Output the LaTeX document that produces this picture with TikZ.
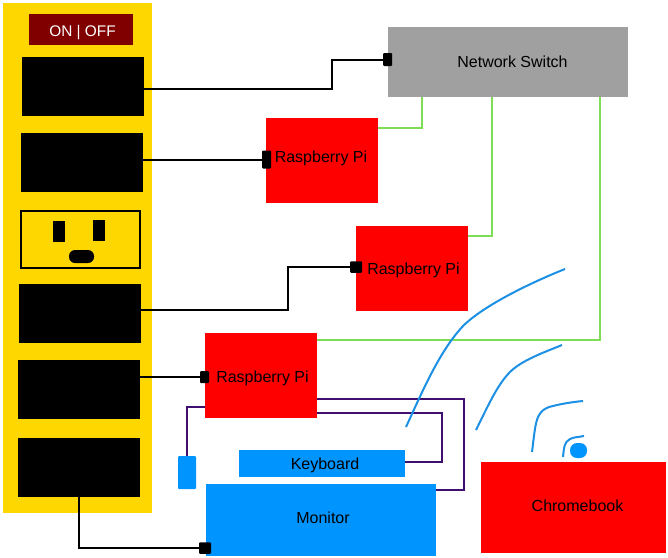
\documentclass[tikz,border=0pt]{standalone}
\usepackage{fontspec}
\setmainfont{Liberation Sans}
\usepackage{tikz}
\usetikzlibrary{calc}

\definecolor{stripyellow}{HTML}{FFD700}
\definecolor{switchdark}{HTML}{800000}
\definecolor{pired}{HTML}{FF0000}
\definecolor{gearblue}{HTML}{0094FF}
\definecolor{waveblue}{HTML}{1C90E4}
\definecolor{switchgrey}{HTML}{A0A0A0}
\definecolor{lanGreen}{HTML}{7FDD55}
\definecolor{usbpurple}{HTML}{3F0F6F}

% moves a label inside its box: right, up
\newcommand{\nudge}[3]{\hspace*{#1}\raisebox{#2}{#3}}

\tikzset{
	box/.style n args={3}{inner sep=0pt, outer sep=0pt, fill=#3,
		minimum width=#1pt, minimum height=#2pt,
		text height=11.5pt, text depth=0pt,
		font=\fontsize{16}{18}\selectfont},
	outlet/.style={box={122}{59}{black}},
	pibox/.style={box={112}{85}{pired}},
	plug/.style n args={2}{box={#1}{#2}{black}, rounded corners=1pt},
	wire/.style={draw=black, line width=2pt},
	lan/.style={draw=lanGreen, line width=2.8pt},
	usb/.style={draw=usbpurple, line width=2.2pt},
	wave/.style={draw=waveblue, line width=2pt},
}

\begin{document}
\begin{tikzpicture}[x=1pt,y=-1pt]

	\useasboundingbox (0,0) rectangle (668,557);

	% power strip
	\node[box={149}{510}{stripyellow}] (strip) at (77.5,258) {};
	\node[box={104}{31}{switchdark}, text=white,
		font=\fontsize{15.4}{18}\selectfont] (onoff) at (81,29.5) {\nudge{3pt}{-1pt}{ON | OFF}};

	\node[outlet] (outA) at (83,86.5) {};
	\node[outlet] (outB) at (82,162.5) {};
	\node[outlet] (outC) at (80,313.5) {};
	\node[outlet] (outD) at (79,389.5) {};
	\node[outlet] (outE) at (79,467.5) {};

	% the open socket
	\node[box={119}{57}{stripyellow}, draw=black, line width=2pt] (socket) at (80,239.5) {};
	\node[box={12}{21}{black}] (pinL) at (59,231.5) {};
	\node[box={12}{21}{black}] (pinR) at (99,230.5) {};
	\node[box={25}{13}{black}, rounded corners=6pt] (pinG) at (81.5,256.5) {};

	% network
	\node[box={240}{70}{switchgrey}] (switch) at (508,62) {\nudge{9pt}{0pt}{Network Switch}};

	%Raspberry Pis
	\node[pibox] (piA) at (322,160.5) {\nudge{-2pt}{3.5pt}{Raspberry Pi}};
	\node[pibox] (piB) at (412,268.5) {\nudge{3pt}{0pt}{Raspberry Pi}};
	\node[pibox] (piC) at (261,375.5) {\nudge{3pt}{-1pt}{Raspberry Pi}};

	% things on the last Pi
	\node[box={166}{27}{gearblue}] (keyboard) at (322,463.5) {\nudge{6pt}{0pt}{Keyboard}};
	\node[box={230}{72}{gearblue}] (monitor) at (321,520) {\nudge{4pt}{2pt}{Monitor}};
	\node[box={18}{33}{gearblue}, rounded corners=1pt] (mouse) at (187,472.5) {};

	\node[box={185}{91}{pired}] (chromebook) at (573.5,507.5) {\nudge{8pt}{2pt}{Chromebook}};
	\node[box={17}{15}{gearblue}, rounded corners=7pt] (wifi) at (578.5,450.5) {};

	% power plugs
	\node[plug={9}{13}] (plugA) at (387.5,59.5) {};
	\node[plug={9}{18}] (plugB) at (266.5,159.5) {};
	\node[plug={12}{10}] (plugC) at (356,267) {};
	\node[plug={9}{12}] (plugD) at (204.5,377) {};
	\node[plug={12}{8}] (plugE) at (205,548) {};

	\coordinate (bendA) at (332,59.5);
	\coordinate (bendC) at (288,267);
	\coordinate (bendK) at (442,462);
	\coordinate (bendM) at (464,490);

	\draw[wire] ([yshift=-2.5pt]outA.east) -| (bendA) -- (plugA.west);
	\draw[wire] ([yshift=3pt]outB.east) -- (plugB.west);
	\draw[wire] ([yshift=3.5pt]outC.east) -| (bendC) -- (plugC.west);
	\draw[wire] ([yshift=12.5pt]outD.east) -- (plugD.west);
	\draw[wire] (outE.south) |- (plugE.west);

	% LAN cables
	\draw[lan] ([xshift=-86pt]switch.south) |- ([yshift=32.5pt]piA.east);
	\draw[lan] ([xshift=-16pt]switch.south) |- ([yshift=32.5pt]piB.east);
	\draw[lan] ([xshift=92pt]switch.south) |- ([yshift=35.5pt]piC.east);

	% USB + HDMI
	\draw[usb] ([yshift=-31.5pt]piC.west) -| (mouse.north);
	\draw[usb] ([yshift=-37.5pt]piC.east) -| (bendK) -- ([yshift=1.5pt]keyboard.east);
	\draw[usb] ([yshift=-23.5pt]piC.east) -| (bendM) -- ([yshift=30pt]monitor.east);

	% wifi signal
	\draw[wave] (406,427) .. controls (423,390) and (440,350) .. (464,325)
		.. controls (485,305) and (530,283) .. (565,269);
	\draw[wave] (476,430) .. controls (487,408) and (497,385) .. (510,372)
		.. controls (522,360) and (545,352) .. (562,345);
	\draw[wave] (532,452) .. controls (534,436) and (535,424) .. (538,417)
		.. controls (541,411) and (544,409) .. (549,407)
		.. controls (560,404) and (572,402) .. (583,401);
	\draw[wave] (563,457) .. controls (564,448) and (564,442) .. (570,439)
		.. controls (574,437) and (579,437) .. (584,436);

\end{tikzpicture}
\end{document}
